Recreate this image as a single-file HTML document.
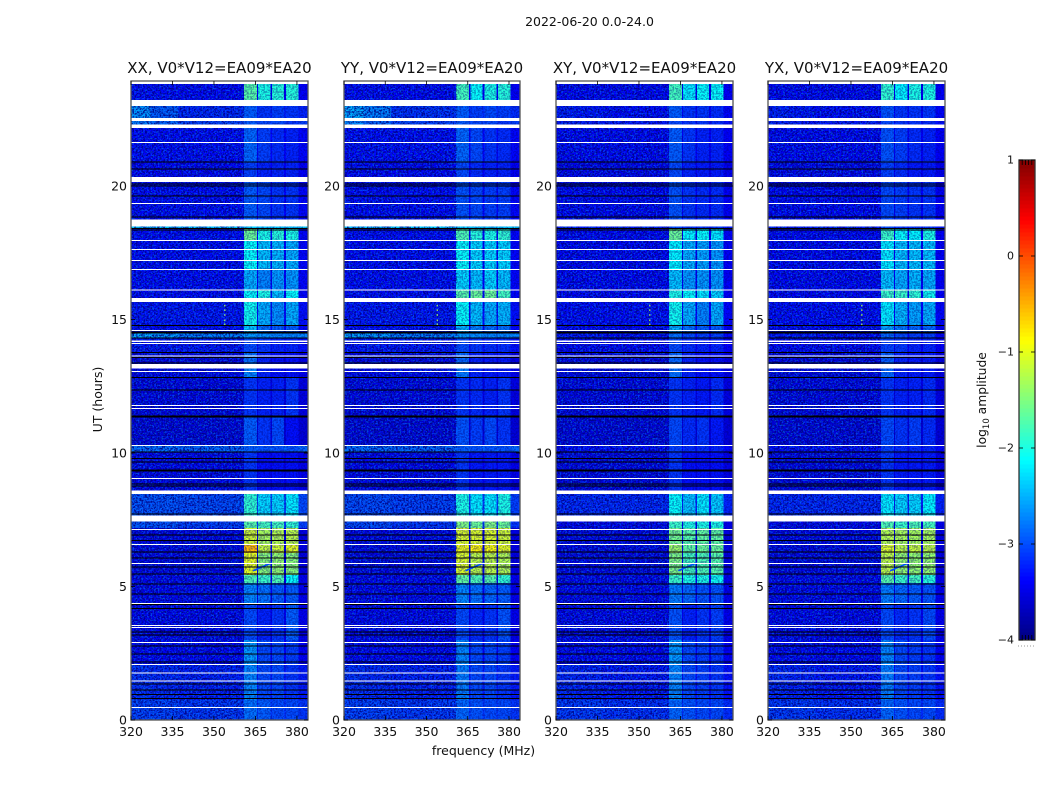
<!DOCTYPE html>
<html lang="en">
<head>
<meta charset="utf-8">
<title>2022-06-20 dynamic spectrum</title>
<style>
html,body{margin:0;padding:0;background:#fff;}
svg{display:block;font-family:"DejaVu Sans","Liberation Sans",sans-serif;}
text{fill:#111;}
</style>
</head>
<body>
<svg id="figure" xmlns="http://www.w3.org/2000/svg" width="1050" height="800" viewBox="0 0 1050 800">
  <defs>
    <filter id="speckle-dark" x="0" y="0" width="100%" height="100%" color-interpolation-filters="sRGB">
      <feTurbulence type="fractalNoise" baseFrequency="0.55 0.6" numOctaves="2" seed="4"/>
      <feColorMatrix type="matrix" values="0 0 0 0 0  0 0 0 0 0  0 0 0 0 0.5  5 0 0 0 -2.1"/>
    </filter>
    <filter id="speckle-light" x="0" y="0" width="100%" height="100%" color-interpolation-filters="sRGB">
      <feTurbulence type="fractalNoise" baseFrequency="0.55 0.6" numOctaves="2" seed="11"/>
      <feColorMatrix type="matrix" values="0 0 0 0 0  0 0 0 0 0.5  0 0 0 0 1  5 0 0 0 -2.55"/>
    </filter>
  </defs>
  <text x="589.500" y="26" text-anchor="middle" font-size="12.500">2022-06-20 0.0-24.0</text>
  <text x="483.500" y="755" text-anchor="middle" font-size="12.500">frequency (MHz)</text>
  <text transform="translate(102,399.500) rotate(-90)" text-anchor="middle" font-size="12.500">UT (hours)</text>
  <g id="panels"></g>
  <g id="colorbar"></g>
  <text transform="translate(986,400) rotate(-90)" text-anchor="middle" font-size="12.300">log<tspan font-size="8.500" dy="3">10</tspan><tspan dy="-3"> amplitude</tspan></text>
</svg>
<script>
// Tick labels and categories
const panelTitles = ["XX, V0*V12=EA09*EA20", "YY, V0*V12=EA09*EA20", "XY, V0*V12=EA09*EA20", "YX, V0*V12=EA09*EA20"];
const freqTicks = [320, 335, 350, 365, 380];
const utTicks = [0, 5, 10, 15, 20];
const colorTicks = [1, 0, -1, -2, -3, -4];

// Frequency channels (MHz) and the spectral groups each channel belongs to
const freqEdges = [320, 327, 337, 360.8, 365.5, 366, 370.4, 371, 375.4, 376, 380.6, 384];
const channelGroup = [0, 1, 2, 3, 2, 4, 2, 5, 2, 6, 2];

// Time rows (UT hours), top to bottom
const rowEdges = [23.82, 23.22, 22.55, 22.30, 20.90, 20.15, 18.75, 18.41, 17.98, 16.85, 16.10, 15.66, 14.77, 14.52, 14.30, 13.77, 13.17, 12.83, 11.36, 10.26, 10.03, 8.59, 7.64, 7.20, 6.59, 6.25, 5.43, 5.13, 4.38, 3.00, 2.06, 0.75, 0];

// log10 amplitude per row: [320-327, 327-337, 337-361, band1, band2, band3, band4]
const ampXX = [
[-3.35,-3.35,-3.4,-1.7,-2.0,-1.95,-1.95],[-2.6,-2.9,-3.2,-2.9,-3.1,-3.05,-3.1],[-2.7,-2.85,-3.05,-2.9,-3.0,-3.0,-3.1],[-3.35,-3.35,-3.35,-2.85,-3.05,-3.15,-3.2],
[-3.4,-3.4,-3.4,-3.05,-3.2,-3.2,-3.2],[-3.35,-3.35,-3.35,-2.9,-3.0,-3.1,-3.1],[-2.35,-2.35,-2.35,-2.35,-2.4,-2.4,-2.4],[-3.35,-3.35,-3.35,-1.6,-2.0,-1.95,-2.0],
[-3.35,-3.35,-3.35,-2.1,-2.4,-2.45,-2.5],[-3.35,-3.35,-3.35,-2.5,-2.7,-2.6,-2.6],[-3.35,-3.35,-3.35,-2.1,-2.0,-2.4,-2.1],[-3.3,-3.3,-3.3,-2.05,-2.5,-2.65,-2.5],
[-3.35,-3.35,-3.35,-2.4,-2.8,-2.9,-2.9],[-2.5,-2.55,-2.7,-2.6,-2.65,-2.7,-2.7],[-3.3,-3.3,-3.3,-3.0,-3.1,-3.2,-3.2],[-3.5,-3.5,-3.5,-2.8,-3.2,-3.3,-3.3],
[-3.45,-3.45,-3.45,-2.7,-3.2,-3.3,-3.3],[-3.5,-3.5,-3.5,-3.1,-3.2,-3.2,-3.1],[-3.55,-3.55,-3.55,-2.9,-3.1,-3.0,-3.3],[-2.8,-2.8,-2.85,-2.9,-2.95,-2.95,-2.95],
[-3.45,-3.45,-3.45,-3.1,-3.3,-3.3,-3.3],[-2.95,-2.95,-3.0,-1.9,-2.3,-2.3,-2.2],[-2.95,-2.95,-3.05,-1.7,-1.8,-1.8,-1.9],[-3.5,-3.5,-3.5,-1.1,-1.3,-1.25,-1.2],
[-3.5,-3.5,-3.5,-0.55,-1.15,-1.1,-1.0],[-3.5,-3.5,-3.5,-1.0,-1.45,-1.4,-1.45],[-3.45,-3.45,-3.45,-1.75,-1.85,-1.75,-2.1],[-3.45,-3.45,-3.45,-2.7,-2.8,-2.9,-2.9],
[-3.45,-3.45,-3.45,-3.0,-3.2,-3.1,-2.9],[-3.4,-3.4,-3.4,-2.6,-3.0,-3.0,-3.05],[-3.15,-3.2,-3.25,-2.7,-3.0,-3.0,-3.1],[-3.05,-3.05,-3.1,-2.8,-2.9,-3.0,-3.0]];
const ampYY = [
[-3.35,-3.35,-3.4,-1.8,-2.1,-2.0,-1.95],[-2.5,-2.7,-3.15,-2.9,-3.05,-3.0,-3.05],[-2.65,-2.85,-3.05,-2.9,-3.0,-3.0,-3.1],[-3.35,-3.35,-3.35,-2.85,-3.0,-3.1,-3.15],
[-3.4,-3.4,-3.4,-3.0,-3.15,-3.2,-3.2],[-3.35,-3.35,-3.35,-2.95,-3.0,-3.05,-3.05],[-2.35,-2.35,-2.35,-2.35,-2.4,-2.4,-2.4],[-3.35,-3.35,-3.35,-1.75,-1.95,-2.0,-1.9],
[-3.35,-3.35,-3.35,-2.1,-2.3,-2.3,-2.3],[-3.35,-3.35,-3.35,-2.3,-2.4,-2.3,-2.4],[-3.35,-3.35,-3.35,-1.7,-1.6,-1.6,-1.8],[-3.3,-3.3,-3.3,-2.1,-2.4,-2.5,-2.45],
[-3.35,-3.35,-3.35,-2.5,-2.7,-2.8,-2.8],[-2.5,-2.55,-2.7,-2.6,-2.65,-2.7,-2.7],[-3.3,-3.3,-3.3,-3.0,-3.1,-3.15,-3.15],[-3.5,-3.5,-3.5,-2.85,-3.2,-3.25,-3.25],
[-3.45,-3.45,-3.45,-2.75,-3.2,-3.25,-3.25],[-3.5,-3.5,-3.5,-3.1,-3.15,-3.2,-3.1],[-3.55,-3.55,-3.55,-2.95,-3.05,-3.0,-3.1],[-2.8,-2.8,-2.85,-2.9,-2.95,-2.95,-2.95],
[-3.45,-3.45,-3.45,-3.1,-3.25,-3.25,-3.25],[-3.0,-3.0,-3.05,-2.0,-2.2,-2.2,-2.0],[-3.0,-3.0,-3.1,-1.5,-1.6,-1.5,-1.6],[-3.5,-3.5,-3.5,-1.05,-1.05,-1.05,-1.1],
[-3.5,-3.5,-3.5,-0.95,-0.85,-0.9,-1.0],[-3.5,-3.5,-3.5,-1.05,-1.2,-1.2,-1.25],[-3.45,-3.45,-3.45,-1.65,-1.75,-1.7,-1.9],[-3.45,-3.45,-3.45,-2.7,-2.8,-2.85,-2.9],
[-3.45,-3.45,-3.45,-3.0,-3.15,-3.1,-2.95],[-3.4,-3.4,-3.4,-2.7,-3.0,-3.0,-3.05],[-3.15,-3.2,-3.25,-2.75,-3.0,-3.0,-3.1],[-3.05,-3.05,-3.1,-2.85,-2.95,-3.0,-3.0]];
const ampXY = [
[-3.4,-3.4,-3.4,-1.8,-2.2,-2.1,-2.1],[-3.25,-3.3,-3.35,-2.9,-3.1,-3.1,-3.15],[-3.25,-3.3,-3.3,-3.0,-3.1,-3.1,-3.15],[-3.4,-3.4,-3.4,-2.9,-3.1,-3.2,-3.2],
[-3.45,-3.45,-3.45,-3.0,-3.2,-3.25,-3.25],[-3.4,-3.4,-3.4,-2.95,-3.1,-3.15,-3.15],[-3.25,-3.25,-3.25,-3.0,-3.1,-3.1,-3.1],[-3.4,-3.4,-3.4,-1.6,-2.15,-2.1,-2.2],
[-3.4,-3.4,-3.4,-2.15,-2.5,-2.55,-2.6],[-3.4,-3.4,-3.4,-2.4,-2.6,-2.6,-2.6],[-3.4,-3.4,-3.4,-2.0,-2.1,-2.2,-2.3],[-3.35,-3.35,-3.35,-2.05,-2.5,-2.7,-2.5],
[-3.4,-3.4,-3.4,-2.5,-2.8,-2.9,-2.9],[-3.3,-3.3,-3.35,-2.8,-3.0,-3.05,-3.05],[-3.4,-3.4,-3.4,-3.0,-3.15,-3.2,-3.2],[-3.5,-3.5,-3.5,-2.85,-3.2,-3.3,-3.3],
[-3.5,-3.5,-3.5,-2.8,-3.2,-3.3,-3.3],[-3.5,-3.5,-3.5,-3.1,-3.2,-3.25,-3.15],[-3.55,-3.55,-3.55,-3.0,-3.15,-3.1,-3.25],[-3.35,-3.35,-3.35,-3.05,-3.15,-3.15,-3.2],
[-3.5,-3.5,-3.5,-3.1,-3.3,-3.3,-3.3],[-3.2,-3.2,-3.2,-2.1,-2.4,-2.2,-2.35],[-3.45,-3.45,-3.45,-1.85,-2.0,-2.0,-2.0],[-3.5,-3.5,-3.5,-1.55,-1.7,-1.65,-1.65],
[-3.5,-3.5,-3.5,-1.35,-1.65,-1.6,-1.6],[-3.5,-3.5,-3.5,-1.5,-1.8,-1.75,-1.7],[-3.45,-3.45,-3.45,-1.85,-2.0,-2.0,-2.05],[-3.45,-3.45,-3.45,-2.75,-2.85,-2.95,-2.95],
[-3.45,-3.45,-3.45,-2.95,-3.2,-3.1,-3.05],[-3.4,-3.4,-3.4,-2.6,-3.0,-3.05,-3.1],[-3.2,-3.25,-3.3,-2.7,-3.0,-3.05,-3.1],[-3.1,-3.1,-3.15,-2.85,-2.95,-3.0,-3.0]];
const ampYX = [
[-3.4,-3.4,-3.4,-1.9,-2.15,-2.0,-2.0],[-3.25,-3.3,-3.35,-2.95,-3.1,-3.1,-3.1],[-3.25,-3.3,-3.3,-3.0,-3.1,-3.1,-3.15],[-3.4,-3.4,-3.4,-2.95,-3.05,-3.15,-3.2],
[-3.45,-3.45,-3.45,-3.05,-3.15,-3.25,-3.25],[-3.4,-3.4,-3.4,-3.0,-3.05,-3.1,-3.1],[-3.25,-3.25,-3.25,-3.0,-3.1,-3.1,-3.1],[-3.4,-3.4,-3.4,-1.85,-2.1,-2.15,-2.0],
[-3.4,-3.4,-3.4,-2.2,-2.4,-2.4,-2.4],[-3.4,-3.4,-3.4,-2.4,-2.5,-2.45,-2.5],[-3.4,-3.4,-3.4,-1.85,-1.85,-1.9,-2.05],[-3.35,-3.35,-3.35,-2.2,-2.45,-2.55,-2.5],
[-3.4,-3.4,-3.4,-2.55,-2.75,-2.85,-2.85],[-3.3,-3.3,-3.35,-2.85,-3.0,-3.05,-3.05],[-3.4,-3.4,-3.4,-3.05,-3.1,-3.2,-3.2],[-3.5,-3.5,-3.5,-2.9,-3.2,-3.25,-3.25],
[-3.5,-3.5,-3.5,-2.85,-3.2,-3.25,-3.25],[-3.5,-3.5,-3.5,-3.1,-3.2,-3.2,-3.15],[-3.55,-3.55,-3.55,-3.0,-3.1,-3.05,-3.15],[-3.35,-3.35,-3.35,-3.05,-3.15,-3.15,-3.2],
[-3.5,-3.5,-3.5,-3.1,-3.25,-3.25,-3.25],[-3.2,-3.2,-3.2,-2.2,-2.3,-2.3,-2.15],[-3.45,-3.45,-3.45,-1.75,-1.85,-1.75,-1.8],[-3.5,-3.5,-3.5,-1.25,-1.3,-1.3,-1.3],
[-3.5,-3.5,-3.5,-1.05,-1.2,-1.15,-1.2],[-3.5,-3.5,-3.5,-1.2,-1.4,-1.4,-1.4],[-3.45,-3.45,-3.45,-1.7,-1.85,-1.8,-1.95],[-3.45,-3.45,-3.45,-2.75,-2.85,-2.9,-2.95],
[-3.45,-3.45,-3.45,-3.0,-3.15,-3.1,-3.0],[-3.4,-3.4,-3.4,-2.7,-3.0,-3.05,-3.1],[-3.2,-3.25,-3.3,-2.75,-3.0,-3.05,-3.1],[-3.1,-3.1,-3.15,-2.85,-2.95,-3.0,-3.0]];
const panelAmps = [ampXX, ampYY, ampXY, ampYX];

// Flagged intervals (UT hours): white = no data
const flagStart = [23.22,22.55,22.30,21.65,20.33,19.36,18.75,17.98,17.64,17.23,16.89,16.12,15.81,14.61,14.21,14.12,13.65,13.33,13.07,11.80,11.69,10.30,9.06,8.59,7.66,7.15,6.59,5.88,4.38,3.56,3.48,2.92,2.10,1.78,1.48,0.49];
const flagEnd   = [23.00,22.43,22.18,21.61,20.15,19.33,18.48,17.94,17.60,17.19,16.85,16.08,15.66,14.57,14.16,14.08,13.61,13.17,13.03,11.76,11.65,10.26,9.03,8.46,7.43,7.12,6.55,5.84,4.34,3.52,3.45,2.88,2.06,1.74,1.44,0.45];
// Zero-amplitude scans (UT hours): black
const zeroScans = [20.90,20.63,20.07,20.00,19.63,18.83,18.41,18.36,14.77,14.54,14.50,14.30,13.77,13.57,13.38,12.83,12.36,11.38,11.34,10.03,9.80,9.67,9.37,9.33,8.84,8.76,7.72,6.92,6.72,6.30,6.06,5.73,5.46,5.09,4.71,4.33,4.18,3.30,3.19,2.77,2.48,2.18,1.34,1.12,0.96,0.80];

// Drifting spur seen in the bright bands
const spurFreq = [364.2, 367.5, 371];
const spurUT = [5.59, 5.74, 5.89];
// Narrow RFI dots
const rfiUT = [15.55, 15.38, 15.2, 15.0, 14.85];
const rfiFreq = [353.7, 353.7, 353.7, 353.7, 353.7];

const NS = "http://www.w3.org/2000/svg";
const panelLeft = [131, 344, 556, 768];
const panelRight = [308, 520, 733, 945];
const plotTop = 81, plotBottom = 720;

function xScale(p, f) { return panelLeft[p] + (f - 320) * (panelRight[p] - panelLeft[p]) / 64; }
function yScale(t) { return plotBottom - t * 26.7; }
function clamp(v) { return Math.max(0, Math.min(1, v)); }
function jet(v) {
  const n = clamp((v + 4) / 5);
  const r = clamp(1.5 - Math.abs(4 * n - 3));
  const g = clamp(1.5 - Math.abs(4 * n - 2));
  const b = clamp(1.5 - Math.abs(4 * n - 1));
  return "rgb(" + Math.round(r * 255) + "," + Math.round(g * 255) + "," + Math.round(b * 255) + ")";
}
function mk(parent, tag, attrs) {
  const el = document.createElementNS(NS, tag);
  for (const k in attrs) el.setAttribute(k, attrs[k]);
  parent.appendChild(el);
  return el;
}

const panelsRoot = document.getElementById("panels");

panelTitles.forEach(function (title, p) {
  const pol = title.slice(0, 2).toLowerCase();
  const g = mk(panelsRoot, "g", {});
  
  

  const cells = mk(g, "g", { "shape-rendering": "crispEdges" });
  
  
  panelAmps[p].forEach(function (row, r) {
    channelGroup.forEach(function (grp, c) {
      const x0 = xScale(p, freqEdges[c]), x1 = xScale(p, freqEdges[c + 1]);
      const y0 = yScale(rowEdges[r]), y1 = yScale(rowEdges[r + 1]);
      const cell = mk(cells, "rect", { x: x0, y: y0, width: x1 - x0, height: y1 - y0, fill: jet(row[grp]) });
      
      
    });
  });

  const dataTop = yScale(rowEdges[0]);
  const dataH = plotBottom - dataTop;
  const noiseW = panelRight[p] - panelLeft[p];
  const splitX = xScale(p, 360.8);
  const darkNoise = mk(g, "rect", { x: panelLeft[p], y: dataTop, width: splitX - panelLeft[p], height: dataH, filter: "url(#speckle-dark)", opacity: 0.85 });
  
  
  const lightNoise = mk(g, "rect", { x: panelLeft[p], y: dataTop, width: splitX - panelLeft[p], height: dataH, filter: "url(#speckle-light)", opacity: 0.55 });
  
  
  const darkBandNoise = mk(g, "rect", { x: splitX, y: dataTop, width: panelRight[p] - splitX, height: dataH, filter: "url(#speckle-dark)", opacity: 0.4 });
  
  

  spurFreq.forEach(function (f, i) {
    if (i === 0) return;
    const seg = mk(g, "line", { x1: xScale(p, spurFreq[i - 1]), y1: yScale(spurUT[i - 1]), x2: xScale(p, f), y2: yScale(spurUT[i]), stroke: jet(-3.0), "stroke-width": 1.6 });
    
    
  });

  rfiUT.forEach(function (t, i) {
    const dot = mk(g, "rect", { x: xScale(p, rfiFreq[i]), y: yScale(t), width: 1.2, height: 1.6, fill: jet(-1.3) });
    
    
  });

  zeroScans.forEach(function (t) {
    const line = mk(g, "rect", { x: panelLeft[p], y: yScale(t) - 0.5, width: noiseW, height: 1, fill: "#000", "shape-rendering": "crispEdges" });
    
    
  });

  flagStart.forEach(function (t, i) {
    const y0 = yScale(t), y1 = yScale(flagEnd[i]);
    const flag = mk(g, "rect", { x: panelLeft[p], y: y0, width: noiseW, height: y1 - y0, fill: "#fff", "shape-rendering": "crispEdges" });
    
    
  });

  const frame = mk(g, "rect", { x: panelLeft[p], y: plotTop, width: noiseW, height: plotBottom - plotTop, fill: "none", stroke: "#555", "stroke-width": 1.3 });
  
  

  const titleEl = mk(g, "text", { x: (panelLeft[p] + panelRight[p]) / 2, y: 73, "text-anchor": "middle", "font-size": 15 });
  titleEl.textContent = title;
  
  

  freqTicks.forEach(function (f) {
    const x = xScale(p, f);
    const tickB = mk(g, "line", { x1: x, x2: x, y1: plotBottom, y2: plotBottom - 4, stroke: "#000", "stroke-width": 0.8 });
    
    
    const tickT = mk(g, "line", { x1: x, x2: x, y1: plotTop, y2: plotTop + 4, stroke: "#000", "stroke-width": 0.8 });
    
    
    const label = mk(g, "text", { x: x, y: 736, "text-anchor": "middle", "font-size": 12.5 });
    label.textContent = String(f);
    
    
  });

  utTicks.forEach(function (t) {
    const y = yScale(t);
    const tickL = mk(g, "line", { x1: panelLeft[p], x2: panelLeft[p] + 4, y1: y, y2: y, stroke: "#000", "stroke-width": 0.8 });
    
    
    const tickR = mk(g, "line", { x1: panelRight[p], x2: panelRight[p] - 4, y1: y, y2: y, stroke: "#000", "stroke-width": 0.8 });
    
    
    const label = mk(g, "text", { x: panelLeft[p] - 4, y: y + 4.5, "text-anchor": "end", "font-size": 12.5 });
    label.textContent = String(t);
    
    
  });
});

// Colorbar
const cbRoot = document.getElementById("colorbar");
const cbX = 1019, cbW = 16, cbTop = 160, cbBottom = 640;
function cbY(v) { return cbBottom - (v + 4) * (cbBottom - cbTop) / 5; }
const cbSteps = 120;
for (let i = 0; i < cbSteps; i++) {
  const v0 = -4 + 5 * i / cbSteps, v1 = -4 + 5 * (i + 1) / cbSteps;
  const swatch = mk(cbRoot, "rect", { x: cbX, y: cbY(v1), width: cbW, height: cbY(v0) - cbY(v1) + 0.5, fill: jet((v0 + v1) / 2), "shape-rendering": "crispEdges" });
  
  
}
const cbFrame = mk(cbRoot, "rect", { x: cbX, y: cbTop, width: cbW, height: cbBottom - cbTop, fill: "none", stroke: "#333", "stroke-width": 1.3 });


colorTicks.forEach(function (v) {
  const y = cbY(v);
  const tickL = mk(cbRoot, "line", { x1: cbX, x2: cbX + 4, y1: y, y2: y, stroke: "#000", "stroke-width": 0.8 });
  
  
  const tickR = mk(cbRoot, "line", { x1: cbX + cbW, x2: cbX + cbW - 4, y1: y, y2: y, stroke: "#000", "stroke-width": 0.8 });
  
  
  const label = mk(cbRoot, "text", { x: cbX - 5, y: y + 3.5, "text-anchor": "end", "font-size": 11 });
  label.textContent = v < 0 ? "\u2212" + Math.abs(v) : String(v);
  
  
});
[0.2, 0.4, 0.6, 0.8].forEach(function (frac) {
  const x = cbX + cbW * frac;
  const topTick = mk(cbRoot, "line", { x1: x, x2: x, y1: cbTop, y2: cbTop + 5, stroke: "#000", "stroke-width": 0.8 });
  
  
  const botTick = mk(cbRoot, "line", { x1: x, x2: x, y1: cbBottom, y2: cbBottom - 5, stroke: "#000", "stroke-width": 0.8 });
  
  
});
const cbDots = mk(cbRoot, "line", { x1: 1018, x2: 1036, y1: 646, y2: 646, stroke: "#999", "stroke-width": 1, "stroke-dasharray": "1 2" });


</script>
</body>
</html>
